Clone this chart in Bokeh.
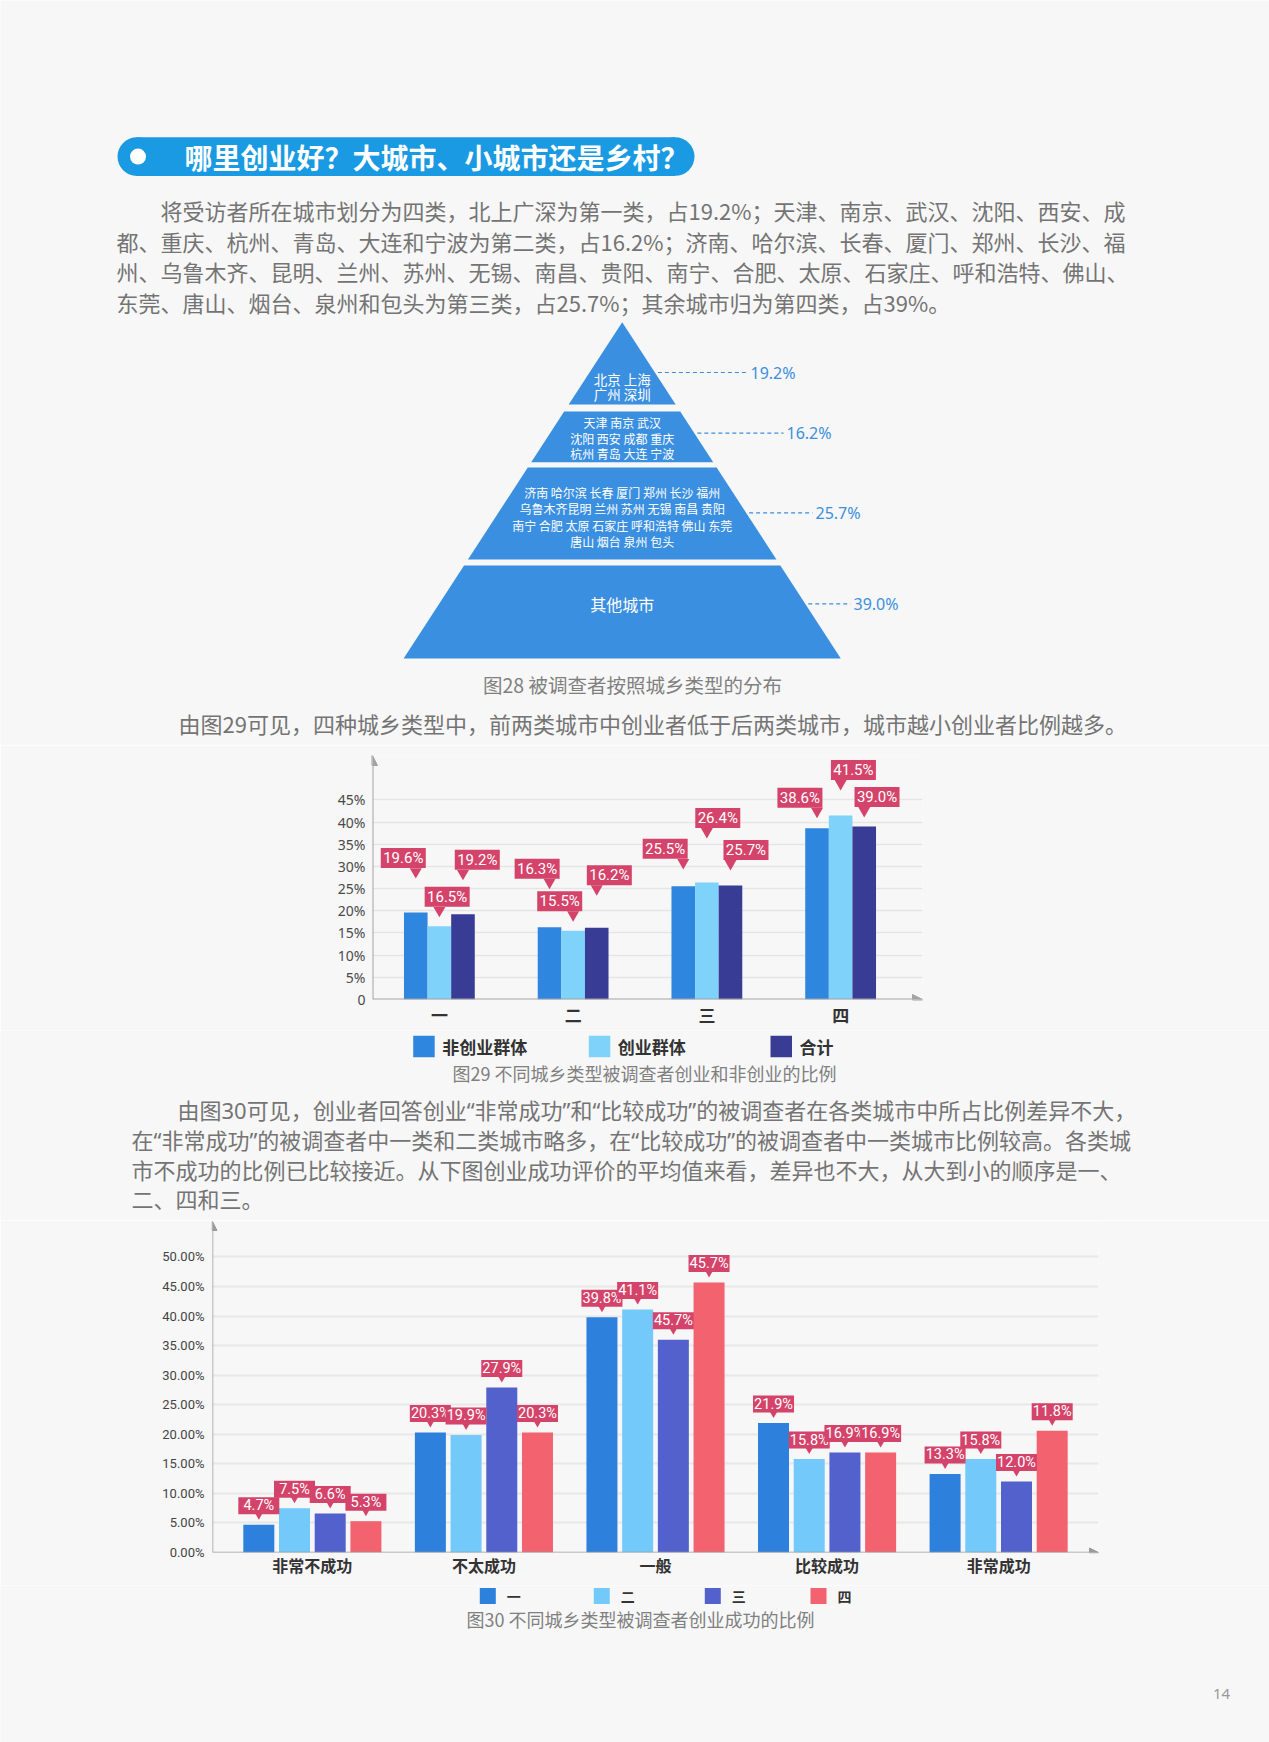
import numpy as np
from bokeh.plotting import figure
from bokeh.models import (Range1d, FactorRange, ColumnDataSource, FixedTicker,
                          PrintfTickFormatter, Arrow, NormalHead)
from bokeh.transform import dodge
from bokeh.layouts import column
from bokeh.core.properties import value
from bokeh.embed import file_html
from bokeh.resources import INLINE

# ------------------------------------------------------------------ data
title_text = "哪里创业好？大城市、小城市还是乡村？"
para1_lines = [
    "将受访者所在城市划分为四类，北上广深为第一类，占19.2%；天津、南京、武汉、沈阳、西安、成",
    "都、重庆、杭州、青岛、大连和宁波为第二类，占16.2%；济南、哈尔滨、长春、厦门、郑州、长沙、福",
    "州、乌鲁木齐、昆明、兰州、苏州、无锡、南昌、贵阳、南宁、合肥、太原、石家庄、呼和浩特、佛山、",
    "东莞、唐山、烟台、泉州和包头为第三类，占25.7%；其余城市归为第四类，占39%。",
]
tier_cities = [
    ["北京 上海", "广州 深圳"],
    ["天津 南京 武汉", "沈阳 西安 成都 重庆", "杭州 青岛 大连 宁波"],
    ["济南 哈尔滨 长春 厦门 郑州 长沙 福州", "乌鲁木齐昆明 兰州 苏州 无锡 南昌 贵阳",
     "南宁 合肥 太原 石家庄 呼和浩特 佛山 东莞", "唐山 烟台 泉州 包头"],
    ["其他城市"],
]
tier_share = [19.2, 16.2, 25.7, 39.0]
caption28 = "图28 被调查者按照城乡类型的分布"
para2 = "由图29可见，四种城乡类型中，前两类城市中创业者低于后两类城市，城市越小创业者比例越多。"

city_types = ["一", "二", "三", "四"]
groups29 = ["非创业群体", "创业群体", "合计"]
non_entre29 = [19.6, 16.3, 25.5, 38.6]
entre29 = [16.5, 15.5, 26.4, 41.5]
total29 = [19.2, 16.2, 25.7, 39.0]
ticks29 = [0, 5, 10, 15, 20, 25, 30, 35, 40, 45]
caption29 = "图29 不同城乡类型被调查者创业和非创业的比例"

para3_lines = [
    "由图30可见，创业者回答创业“非常成功”和“比较成功”的被调查者在各类城市中所占比例差异不大，",
    "在“非常成功”的被调查者中一类和二类城市略多，在“比较成功”的被调查者中一类城市比例较高。各类城",
    "市不成功的比例已比较接近。从下图创业成功评价的平均值来看，差异也不大，从大到小的顺序是一、",
    "二、四和三。",
]

success_levels = ["非常不成功", "不太成功", "一般", "比较成功", "非常成功"]
# bar heights as drawn
share_1 = [4.7, 20.3, 39.8, 21.9, 13.3]
share_2 = [7.5, 19.9, 41.1, 15.8, 15.8]
share_3 = [6.6, 27.9, 36.0, 16.9, 12.0]
share_4 = [5.3, 20.3, 45.7, 16.9, 20.6]
# value labels as printed on the chart
label_1 = ["4.7%", "20.3%", "39.8%", "21.9%", "13.3%"]
label_2 = ["7.5%", "19.9%", "41.1%", "15.8%", "15.8%"]
label_3 = ["6.6%", "27.9%", "45.7%", "16.9%", "12.0%"]
label_4 = ["5.3%", "20.3%", "45.7%", "16.9%", "11.8%"]
ticks30 = [0, 5, 10, 15, 20, 25, 30, 35, 40, 45, 50]
caption30 = "图30 不同城乡类型被调查者创业成功的比例"
page_number = "14"

# ------------------------------------------------------------------ style
BG = "#f7f7f7"
TXT = "#747474"
CAP = "#808080"
DARK = "#333333"
PILL = "#1a9ae2"
PYR = "#3b8fe0"
CALL = "#d4436a"
AXC = "#a3a3a3"
GRID = "#e5e5e5"
CJK = "Noto Sans CJK SC"
MIX = "Noto Sans, Noto Sans CJK SC"
LAT = "Roboto"
PAGE_W = 1269
colors29 = ["#2f86de", "#7fd3fb", "#383c94"]
colors30 = ["#2d80dc", "#72c9fa", "#5261cc", "#f2626f"]


def blank_fig(y_top, y_bot):
    p = figure(width=PAGE_W, height=int(round(y_bot - y_top)),
               x_range=Range1d(0, PAGE_W), y_range=Range1d(y_bot, y_top),
               output_backend="svg", toolbar_location=None, min_border=0,
               frame_align=False)
    p.xaxis.visible = False
    p.yaxis.visible = False
    p.grid.visible = False
    p.outline_line_color = None
    p.background_fill_color = BG
    p.border_fill_color = BG
    return p


def txt(p, xs, ys, texts, size, color, align="left", bold=False, font=CJK):
    p.text(x=list(xs), y=list(ys), text=list(texts), text_font=value(font),
           text_font_size=f"{size}px", text_color=color, text_align=align,
           text_baseline="middle", text_font_style="bold" if bold else "normal")


def style_axes(p):
    p.outline_line_color = None
    p.background_fill_color = BG
    p.border_fill_color = BG
    p.xgrid.grid_line_color = None
    for ax in (p.xaxis, p.yaxis):
        ax.axis_line_color = None
        ax.major_tick_line_color = None
        ax.minor_tick_line_color = None
        ax.major_tick_out = 0
        ax.major_tick_in = 0
        ax.minor_tick_out = 0


# ================================================================ figure A
pa = blank_fig(0, 745)
pill_l, pill_r, pill_t, pill_b = 117.0, 694.0, 136.8, 175.4
pr = (pill_b - pill_t) / 2
pa.quad(left=[pill_l + pr], right=[pill_r - pr], top=[pill_t], bottom=[pill_b],
        fill_color=PILL, line_color=None)
pa.circle(x=[pill_l + pr, pill_r - pr], y=[pill_t + pr] * 2, radius=pr,
          fill_color=PILL, line_color=None)
pa.circle(x=[137.5], y=[pill_t + pr], radius=8, fill_color="white", line_color=None)
txt(pa, [184], [pill_t + pr + 0.5], [title_text], 28, "white", bold=True)

txt(pa, [160, 116, 116, 116], [209, 240, 270.5, 301], para1_lines, 22, TXT)

apex_x, apex_y, slope = 621.7, 321.7, 0.65
tier_bounds = [(apex_y, 404), (411, 461.7), (467, 559), (565, 658)]
xs, ys = [], []
for (t, b) in tier_bounds:
    ht, hb = slope * (t - apex_y), slope * (b - apex_y)
    xs.append([apex_x - ht, apex_x + ht, apex_x + hb, apex_x - hb])
    ys.append([t, t, b, b])
pa.patches(xs=xs, ys=ys, fill_color=PYR, line_color=None)

tier_text_center = [385.5, 437.5, 516.5, 603]
tier_line_gap = [15, 15.7, 16.4, 0]
tier_font = [13.5, 12, 12, 16]
for lines, c, g, fs in zip(tier_cities, tier_text_center, tier_line_gap, tier_font):
    n = len(lines)
    yy = [c + (k - (n - 1) / 2) * g for k in range(n)]
    txt(pa, [apex_x] * n, yy, lines, fs, "white", align="center")

label_y = [372, 432.7, 512.3, 603.3]
label_x = [750, 786, 815, 853]
for share, ly, lx in zip(tier_share, label_y, label_x):
    x0 = apex_x + slope * (ly - apex_y) + 3
    pa.segment(x0=[x0], y0=[ly], x1=[lx - 3], y1=[ly], line_color=PYR,
               line_width=1.2, line_dash="4 3")
    txt(pa, [lx], [ly], [f"{share:.1f}%"], 16, PYR, font="Noto Sans")

txt(pa, [632], [684], [caption28], 19.5, CAP, align="center")
txt(pa, [178], [722], [para2], 22, TXT)

# ================================================================ figure B (chart 29)
ppx29 = 133.75                         # px per category
xmax29 = len(city_types) + 15 / ppx29  # room for the arrow head
fw29, fh29 = int(round(xmax29 * ppx29)), 244
ymax29 = 55
ppu29 = fh29 / ymax29
bw29 = 23.6 / ppx29
offs29 = [-bw29, 0.0, bw29]
pos29 = list(np.arange(len(city_types)) + 0.5)
pb = figure(x_range=Range1d(0, xmax29), y_range=Range1d(0, ymax29),
            frame_width=fw29, frame_height=fh29,
            min_border_left=372, min_border_right=PAGE_W - 372 - fw29,
            min_border_top=10, min_border_bottom=31, frame_align=False,
            output_backend="svg", toolbar_location=None)
style_axes(pb)
pb.ygrid.ticker = FixedTicker(ticks=ticks29)
pb.ygrid.grid_line_color = GRID
pb.ygrid.grid_line_width = 1.5
pb.yaxis.ticker = FixedTicker(ticks=ticks29)
pb.yaxis.formatter = PrintfTickFormatter(format="%d%%")
pb.yaxis.major_label_overrides = {0: "0"}
pb.yaxis.major_label_text_font = "Noto Sans"
pb.yaxis.major_label_text_font_size = "14px"
pb.yaxis.major_label_text_color = "#4a4a4a"
pb.yaxis.major_label_standoff = 7
pb.xaxis.ticker = FixedTicker(ticks=pos29)
pb.xaxis.major_label_overrides = {float(p): c for p, c in zip(pos29, city_types)}
pb.xaxis.major_label_text_font = CJK
pb.xaxis.major_label_text_font_style = "bold"
pb.xaxis.major_label_text_font_size = "17px"
pb.xaxis.major_label_text_color = DARK
pb.xaxis.major_label_standoff = 2

gap29 = [[34, 38, 17, 10], [9, 9, 44, 25], [34, 32, 15, 9]]
dx29 = [[-12.5, -12.4, -18.1, -17.1], [7.8, -13.4, 10.9, 12.8], [14.3, 12.6, 15.5, 12.8]]
for i, (vals, col) in enumerate(zip([non_entre29, entre29, total29], colors29)):
    src = ColumnDataSource(dict(pos=pos29, cat=city_types, val=vals))
    pb.vbar(x=dodge("pos", offs29[i]), top="val", width=bw29,
            source=src, fill_color=col, line_color=None)
for i, vals in enumerate([non_entre29, entre29, total29]):
    base = np.array(pos29) + offs29[i]
    tip = np.array(vals) + np.array(gap29[i]) / ppu29
    bx = base + np.array(dx29[i]) / ppx29
    by = tip + (10.5 + 10) / ppu29
    pb.scatter(x=base, y=tip + 0.577 * 12 / ppu29, marker="inverted_triangle", size=12,
               fill_color=CALL, line_color=None)
    pb.rect(x=bx, y=by, width=45, height=20, width_units="screen", height_units="screen",
            fill_color=CALL, line_color=None)
    pb.text(x=bx, y=by, text=[f"{v:.1f}%" for v in vals], text_font=value(LAT),
            text_font_size="15px", text_color="white", text_align="center",
            text_baseline="middle")

head29 = dict(size=10, fill_color=AXC, line_color=AXC)
pb.add_layout(Arrow(end=NormalHead(**head29), x_start=0, y_start=0, x_end=0, y_end=ymax29,
                    line_color=AXC, line_width=2))
pb.add_layout(Arrow(end=NormalHead(**head29), x_start=0, y_start=0, x_end=xmax29, y_end=0,
                    line_color=AXC, line_width=2))

# ================================================================ figure C
pc = blank_fig(1030, 1220)
leg29_x = [412.7, 588.3, 770]
leg29_y = 1046
pc.rect(x=[x + 10.75 for x in leg29_x], y=[leg29_y] * 3, width=21.5, height=21.5,
        fill_color=colors29, line_color=None)
txt(pc, [x + 29 for x in leg29_x], [leg29_y] * 3, groups29, 17, DARK, bold=True)
txt(pc, [644], [1072.5], [caption29], 18, CAP, align="center")
txt(pc, [177, 131, 131, 131], [1109, 1139, 1169, 1198], para3_lines, 22, TXT, font=MIX)

# ================================================================ figure D (chart 30)
fw30, fh30 = 886, 331
ymax30 = 56
ppu30 = fh30 / ymax30
pad30 = 0.082                          # per side, in category units
ppx30 = fw30 / (len(success_levels) + 2 * pad30)
bw30 = 31 / ppx30
step30 = 35.7 / ppx30
offs30 = [-1.5 * step30, -0.5 * step30, 0.5 * step30, 1.5 * step30]
pd_ = figure(x_range=FactorRange(*success_levels, range_padding=pad30,
                                 range_padding_units="absolute"),
             y_range=Range1d(0, ymax30), frame_width=fw30, frame_height=fh30,
             min_border_left=212, min_border_right=PAGE_W - 212 - fw30,
             min_border_top=1, min_border_bottom=33, frame_align=False,
             output_backend="svg", toolbar_location=None)
style_axes(pd_)
pd_.ygrid.ticker = FixedTicker(ticks=ticks30)
pd_.ygrid.grid_line_color = "#e8e8e8"
pd_.ygrid.grid_line_width = 2
pd_.yaxis.ticker = FixedTicker(ticks=ticks30)
pd_.yaxis.formatter = PrintfTickFormatter(format="%.2f%%")
pd_.yaxis.major_label_text_font = LAT
pd_.yaxis.major_label_text_font_size = "13px"
pd_.yaxis.major_label_text_color = "#444444"
pd_.yaxis.major_label_standoff = 8
pd_.xaxis.major_label_text_font = CJK
pd_.xaxis.major_label_text_font_style = "bold"
pd_.xaxis.major_label_text_font_size = "16px"
pd_.xaxis.major_label_text_color = DARK
pd_.xaxis.major_label_standoff = 0

for i, (vals, col) in enumerate(zip([share_1, share_2, share_3, share_4], colors30)):
    src = ColumnDataSource(dict(cat=success_levels, val=vals))
    pd_.vbar(x=dodge("cat", offs30[i], range=pd_.x_range), top="val", width=bw30,
             source=src, fill_color=col, line_color=None)
for i, (vals, labs) in enumerate(zip([share_1, share_2, share_3, share_4],
                                     [label_1, label_2, label_3, label_4])):
    base = np.arange(len(success_levels)) + 0.5 + offs30[i]
    tip = np.array(vals) + 5 / ppu30
    by = tip + (5.5 + 8.5) / ppu30
    pd_.scatter(x=base, y=tip + 0.577 * 8 / ppu30, marker="inverted_triangle", size=8,
                fill_color=CALL, line_color=None)
    pd_.rect(x=base, y=by, width=41, height=17, width_units="screen", height_units="screen",
             fill_color=CALL, line_color=None)
    pd_.text(x=base, y=by, text=labs, text_font=value(LAT), text_font_size="14.5px",
             text_color="white", text_align="center", text_baseline="middle")

left30 = -pad30
right30 = len(success_levels) + pad30
head30 = dict(size=9, fill_color="#9a9a9a", line_color="#9a9a9a")
pd_.add_layout(Arrow(end=NormalHead(**head30), x_start=left30, y_start=0, x_end=left30,
                     y_end=ymax30, line_color="#9a9a9a", line_width=1.5))
pd_.add_layout(Arrow(end=NormalHead(**head30), x_start=left30, y_start=0,
                     x_end=right30, y_end=0, line_color="#9a9a9a", line_width=1.5))

# ================================================================ figure E
pe = blank_fig(1585, 1742)
leg30_x = [479.3, 593.3, 704.3, 810]
leg30_y = 1595.5
pe.rect(x=[x + 8 for x in leg30_x], y=[leg30_y] * 4, width=16, height=16,
        fill_color=colors30, line_color=None)
txt(pe, [x + 27 for x in leg30_x], [leg30_y] * 4, city_types, 14, DARK, bold=True)
txt(pe, [640], [1618.5], [caption30], 18, CAP, align="center")
txt(pe, [1221], [1693], [page_number], 15, "#999999", align="center", font="Noto Sans")

layout = column(pa, pb, pc, pd_, pe, spacing=0)
open("out.html", "w").write(file_html(layout, INLINE))
